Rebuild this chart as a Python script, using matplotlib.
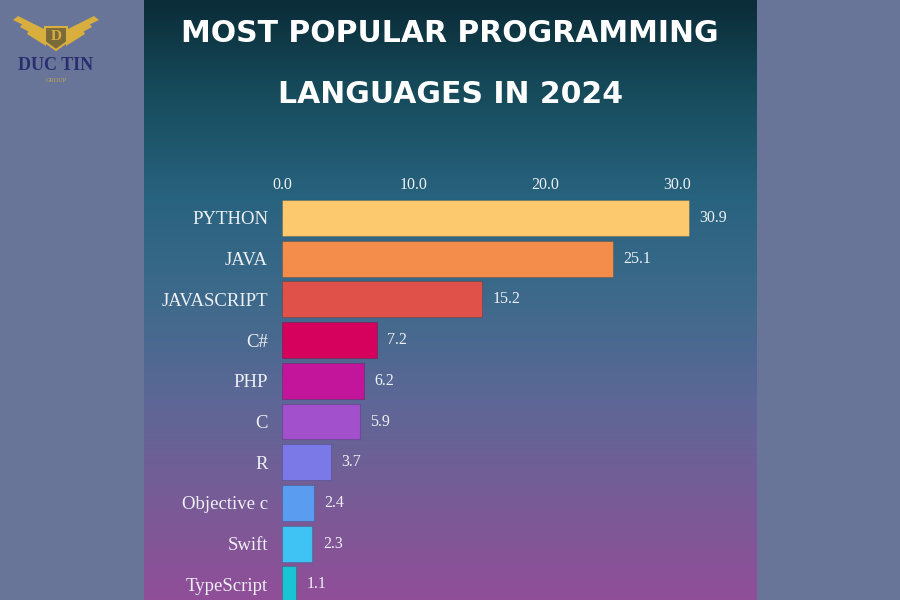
"""Most popular programming languages in 2024 - horizontal bar chart on a gradient card."""

import matplotlib.pyplot as plt
import numpy as np
from matplotlib.colors import LinearSegmentedColormap
from matplotlib.patches import Polygon

languages = ["PYTHON", "JAVA", "JAVASCRIPT", "C#", "PHP", "C", "R",
             "Objective c", "Swift", "TypeScript"]
shares = [30.9, 25.1, 15.2, 7.2, 6.2, 5.9, 3.7, 2.4, 2.3, 1.1]
bar_colors = ["#fdc96f", "#f48d4b", "#e0514a", "#d5015d", "#c3159b",
              "#a250cc", "#7b79e8", "#5a9df0", "#3fc3f4", "#19c4d2"]
x_ticks = [0, 10, 20, 30]

title_lines = ["MOST POPULAR PROGRAMMING", "LANGUAGES IN 2024"]

W, H = 900, 600
fig = plt.figure(figsize=(9, 6), dpi=100)
fig.patch.set_facecolor("#687598")

# gradient card in the middle
card_left, card_right = 144, 756
bg = fig.add_axes([card_left / W, 0, (card_right - card_left) / W, 1])
grad = LinearSegmentedColormap.from_list(
    "card",
    [(0.0, "#0b2c38"), (0.15, "#164b5b"), (0.33, "#28637f"), (0.5, "#3e6a8b"),
     (0.67, "#5d6796"), (0.83, "#775c96"), (1.0, "#904e99")])
bg.imshow(np.linspace(0, 1, 300).reshape(-1, 1), cmap=grad, aspect="auto",
          extent=[0, 1, 0, 1], origin="upper")
bg.set_axis_off()

# title
for i, line in enumerate(title_lines):
    fig.text(0.5, 1 - (34 + 60 * i) / H, line, ha="center", va="center",
             color="white", fontsize=21.5, fontweight="bold", family="DejaVu Sans")

# bar axes
row_gap = 40.7
y_top = 218 - row_gap / 2
ax = fig.add_axes([282 / W, 0, (card_right - 282) / W, (H - y_top) / H])
ax.set_facecolor("none")
pos = np.arange(len(languages))
ax.barh(pos, shares, height=0.88, color=bar_colors, edgecolor=(0, 0, 0, 0.15),
        linewidth=0.8)
ax.set_xlim(0, (card_right - 282) / 13.17)
ax.set_ylim((H - 218) / row_gap, -0.5)
ax.xaxis.tick_top()
ax.set_xticks(x_ticks)
ax.set_xticklabels([f"{t:.1f}" for t in x_ticks])
ax.set_yticks(pos)
ax.set_yticklabels(languages)
ax.tick_params(length=0, colors="#eef0f4", labelsize=11.5)
ax.tick_params(axis="y", pad=10, labelsize=13.5)
ax.tick_params(axis="x", pad=3)
for lab in ax.get_xticklabels() + ax.get_yticklabels():
    lab.set_family("Liberation Serif")
for s in ax.spines.values():
    s.set_visible(False)
for p, v in zip(pos, shares):
    ax.text(v + 0.8, p, f"{v:.1f}", va="center", ha="left", color="#eef0f4",
            fontsize=11.5, family="Liberation Serif")

# logo
lx = fig.add_axes([0, 0, 1, 1])
lx.set_xlim(0, W)
lx.set_ylim(H, 0)
lx.set_axis_off()
gold = "#d8ae3e"
for sgn in (-1, 1):
    for k in range(3):
        x0 = 56 + sgn * 10
        lx.add_patch(Polygon([(x0, 30 + 5 * k), (x0 + sgn * (28 - 6 * k), 16 + 6 * k),
                              (x0 + sgn * (33 - 7 * k), 20 + 7 * k),
                              (x0, 36 + 5 * k)], closed=True, color=gold, lw=0))
lx.add_patch(Polygon([(45, 27), (67, 27), (67, 42), (56, 50), (45, 42)],
                     closed=True, facecolor="#7a6a3a", edgecolor=gold, lw=1.5))
lx.text(56, 37, "D", ha="center", va="center", color=gold, fontsize=11,
        family="Liberation Serif", fontweight="bold")
lx.text(56, 66, "DUC TIN", ha="center", va="center", color="#2a2e70",
        fontsize=13, family="Liberation Serif", fontweight="bold")
lx.text(56, 81, "GROUP", ha="center", va="center", color="#c9a95a",
        fontsize=4.5, family="Liberation Serif")

fig.savefig("out.png", dpi=100, facecolor=fig.get_facecolor())
